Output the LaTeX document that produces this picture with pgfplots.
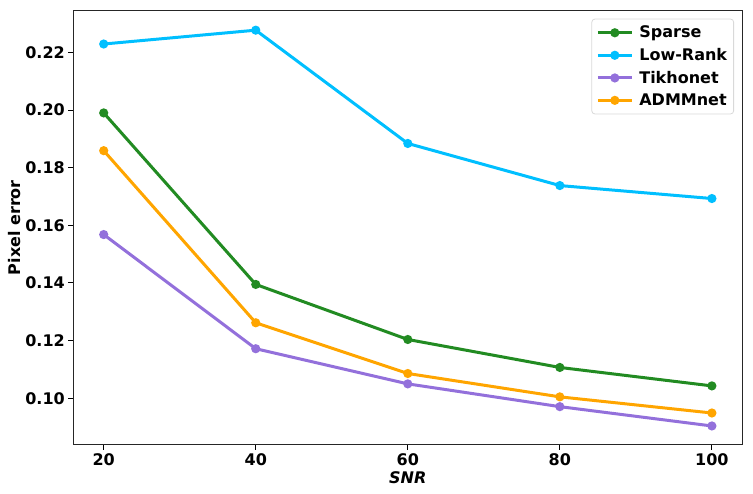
\documentclass[border=0pt]{standalone}
\usepackage{pgfplots}
\pgfplotsset{compat=1.18}
\usepackage{fontspec}
\setmainfont{DejaVu Sans}
\definecolor{cSparse}{RGB}{34,139,34}
\definecolor{cLow}{RGB}{0,191,255}
\definecolor{cTik}{RGB}{147,112,219}
\definecolor{cAdmm}{RGB}{255,165,0}
\newcommand\tf{\fontsize{16}{19.2}\selectfont\bfseries}
\begin{document}
\begin{tikzpicture}[x=1pt,y=1pt]
\path[use as bounding box] (0,0) rectangle (753,494);
\begin{axis}[
  at={(73.3pt,49pt)}, anchor=south west,
  scale only axis, width=669pt, height=434.7pt,
  xmin=16, xmax=104, ymin=0.0838, ymax=0.2346,
  xtick={20,40,60,80,100},
  ytick={0.10,0.12,0.14,0.16,0.18,0.20,0.22},
  xtick pos=left, ytick pos=left,
  tick align=outside, major tick length=5pt,
  every tick/.style={black, line width=1pt},
  axis line style={line width=1pt, black!85},
  ticklabel style={font=\tf},
  /pgf/number format/assume math mode=true,
  yticklabel style={/pgf/number format/fixed, /pgf/number format/fixed zerofill, /pgf/number format/precision=2},
  scaled y ticks=false,
  xlabel={\tf\itshape SNR},
  ylabel={\tf Pixel error},
  xlabel style={yshift=1pt},
  ylabel style={yshift=-2pt},
  every axis plot/.append style={line width=3pt, mark=*, mark size=3pt, mark options={solid}},
  legend style={at={(0.9876,0.9807)}, anchor=north east, draw=black!15, line width=0.8pt, rounded corners=3pt,
    fill=white, fill opacity=0.8, text opacity=1, draw opacity=1, font=\tf, inner xsep=4.5pt, inner ysep=5pt, row sep=5pt},
  legend cell align=left,
  legend image code/.code={\draw[mark repeat=2,mark phase=2,#1] plot coordinates {(0pt,0pt)(17pt,0pt)(34pt,0pt)}; \path (38pt,0pt);},
]
\addplot[color=cSparse] coordinates {(20,0.1990) (40,0.1395) (60,0.1204) (80,0.1107) (100,0.1043)};
\addlegendentry{Sparse}
\addplot[color=cLow] coordinates {(20,0.2229) (40,0.2277) (60,0.1884) (80,0.1738) (100,0.1693)};
\addlegendentry{Low-Rank}
\addplot[color=cTik] coordinates {(20,0.1568) (40,0.1172) (60,0.1050) (80,0.0971) (100,0.0904)};
\addlegendentry{Tikhonet}
\addplot[color=cAdmm] coordinates {(20,0.1859) (40,0.1262) (60,0.1086) (80,0.1005) (100,0.0949)};
\addlegendentry{ADMMnet}
\end{axis}
\end{tikzpicture}
\end{document}
